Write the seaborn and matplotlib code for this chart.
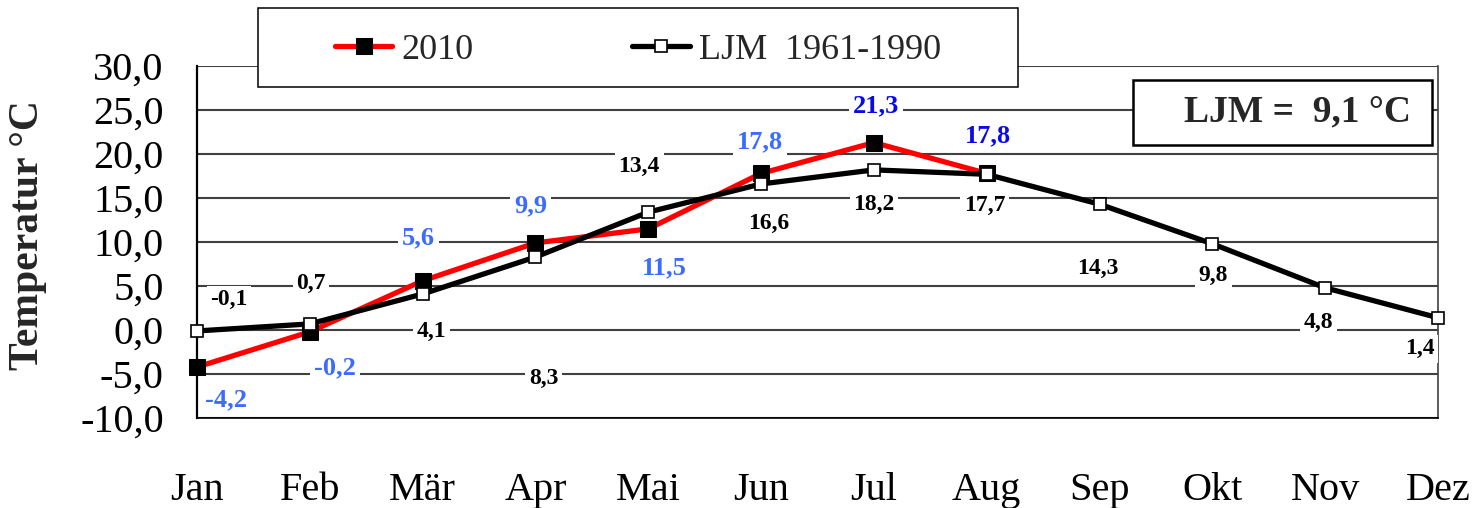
import matplotlib.pyplot as plt
import seaborn as sns
from matplotlib.patches import Rectangle

months = ['Jan', 'Feb', 'Mär', 'Apr', 'Mai', 'Jun', 'Jul', 'Aug', 'Sep', 'Okt', 'Nov', 'Dez']
temp_2010 = [-4.2, -0.2, 5.6, 9.9, 11.5, 17.8, 21.3, 17.8]
temp_ljm = [-0.1, 0.7, 4.1, 8.3, 13.4, 16.6, 18.2, 17.7, 14.3, 9.8, 4.8, 1.4]
ljm_mean = 9.1
y_ticks = [-10, -5, 0, 5, 10, 15, 20, 25, 30]

# label offsets in pixels (dx right, dy down) from each point
off_2010 = [(29, 33), (25, 36), (-4, -43), (-5, -37), (16, 39), (-1, -32), (2, -37), (1, -38)]
off_ljm = [(32, -31), (1, -40), (9, 37), (8, 121), (-9, -46), (8, 39), (0, 35), (-2, 31),
           (-2, 64), (1, 32), (-7, 35), (-18, 31)]
col_2010 = ['#3b6bff'] * 6 + ['#0a0ae6', '#0a0ae6']

DPI = 100


def fmt(v):
    return f'{v:.1f}'.replace('.', ',')


def main():
    sns.set_style('white')
    plt.rcParams['font.family'] = ['Liberation Serif', 'DejaVu Serif']

    fig = plt.figure(figsize=(14.81, 5.08), dpi=DPI)
    ax = fig.add_axes([0.133, 0.177, 0.838, 0.693])

    sns.lineplot(x=list(range(len(temp_2010))), y=temp_2010, ax=ax, color='red', lw=3.8,
                 marker='s', markersize=12, markerfacecolor='black', markeredgecolor='black',
                 label='2010', zorder=4, clip_on=False)
    sns.lineplot(x=list(range(len(temp_ljm))), y=temp_ljm, ax=ax, color='black', lw=3.8,
                 marker='s', markersize=8, markerfacecolor='white', markeredgecolor='black',
                 markeredgewidth=1.2, label='LJM  1961-1990', zorder=5, clip_on=False)
    handles, labels = ax.get_legend_handles_labels()
    if ax.get_legend():
        ax.get_legend().remove()

    k = 72 / DPI
    for i, v in enumerate(temp_ljm):
        dx, dy = off_ljm[i]
        ax.annotate(fmt(v), (i, v), xytext=(dx * k, -dy * k), textcoords='offset points',
                    ha='center', va='center', fontsize=17, fontweight='bold', color='black',
                    bbox=dict(boxstyle='square,pad=0.15', fc='white', ec='none'), zorder=3)
    for i, v in enumerate(temp_2010):
        dx, dy = off_2010[i]
        ax.annotate(fmt(v), (i, v), xytext=(dx * k, -dy * k), textcoords='offset points',
                    ha='center', va='center', fontsize=19, fontweight='bold', color=col_2010[i],
                    bbox=dict(boxstyle='square,pad=0.15', fc='white', ec='none'), zorder=3)

    ax.set_xlim(0, 11)
    ax.set_ylim(-10, 30)
    ax.set_xticks(range(12))
    ax.set_xticklabels(months)
    ax.set_yticks(y_ticks)
    ax.set_yticklabels([fmt(v) for v in y_ticks])
    ax.set_xlabel('')
    ax.set_ylabel('')
    ax.tick_params(axis='y', direction='out', length=10, width=1.2, pad=14, labelsize=29, colors='black')
    ax.tick_params(axis='x', direction='inout', length=20, width=1.2, pad=29, labelsize=29, colors='black')
    ax.yaxis.grid(True, color='#404040', lw=1.5)
    ax.xaxis.grid(False)
    ax.set_axisbelow(True)
    ax.spines['left'].set_color('black')
    ax.spines['left'].set_linewidth(1.6)
    ax.spines['bottom'].set_color('black')
    ax.spines['bottom'].set_linewidth(1.2)
    ax.spines['right'].set_color('#404040')
    ax.spines['right'].set_linewidth(1.2)
    ax.spines['top'].set_visible(False)

    fig.text(0.019, 0.537, 'Temperatur °C', rotation=90, fontsize=30, fontweight='bold',
             ha='center', va='center')

    # legend box
    fig.patches.append(Rectangle((258 / 1481, 1 - 87 / 508), 760 / 1481, 79 / 508,
                                 transform=fig.transFigure, fc='white', ec='black', lw=1.1, zorder=1))
    fig.legend(handles, labels, loc='center', bbox_to_anchor=(638 / 1481, 1 - 50 / 508), ncol=2,
               frameon=False, fontsize=26, handlelength=1.6, handletextpad=0.25, columnspacing=4.4)

    # LJM mean box
    fig.patches.append(Rectangle((1133 / 1481, 1 - 145 / 508), 299 / 1481, 65 / 508,
                                 transform=fig.transFigure, fc='white', ec='black', lw=1.8, zorder=1))
    fig.text(1298 / 1481, 1 - 112 / 508, f'LJM =  {fmt(ljm_mean)} °C', fontsize=27, fontweight='bold',
             ha='center', va='center', zorder=2)

    plt.savefig('out.png', dpi=DPI)
    plt.close()


if __name__ == '__main__':
    main()
